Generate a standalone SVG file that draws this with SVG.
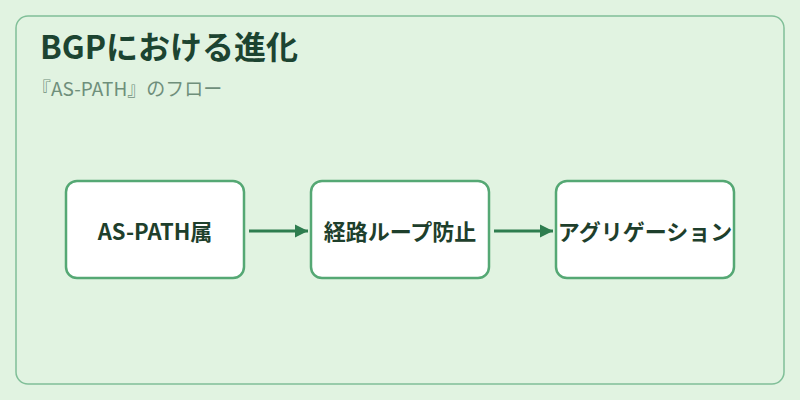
<svg xmlns="http://www.w3.org/2000/svg" width="800" height="400" viewBox="0 0 800 400">
<defs>
<style>
.bg{fill:#e1f3e1}
.frame{fill:#e1f3e1;stroke:#80bf98;stroke-width:1.5}
.box{fill:#ffffff;stroke:#55a874;stroke-width:2.5}
.lbl{font-family:"Noto Sans CJK JP","Noto Sans",sans-serif;font-weight:700;font-size:22px;fill:#1e3f2c;text-anchor:middle;dominant-baseline:central}
.title{font-family:"Noto Sans CJK JP","Noto Sans",sans-serif;font-weight:700;font-size:32px;fill:#1c4431}
.sub{font-family:"Noto Sans CJK JP","Noto Sans",sans-serif;font-size:19px;fill:#6f8f7b}
.edge{stroke:#2e7d4f;stroke-width:3;fill:none}
</style>
<marker id="ah" viewBox="0 0 10 10" refX="10" refY="5" markerWidth="4.5" markerHeight="4.7" orient="auto" markerUnits="strokeWidth">
<path d="M0,0 L10,5 L0,10 z" fill="#2e7d4f"/>
</marker>
</defs>
<rect class="bg" x="0" y="0" width="800" height="400"/>
<rect class="frame" x="16" y="16" width="768" height="368" rx="12"/>
<text class="title" x="40" y="59">BGPにおける進化</text>
<text class="sub" x="32" y="96">『AS-PATH』のフロー</text>
<g id="connectors">
<line class="edge" x1="249" y1="231" x2="308" y2="231" marker-end="url(#ah)"/>
<line class="edge" x1="494" y1="231" x2="553" y2="231" marker-end="url(#ah)"/>
</g>
<g id="node1">
<rect class="box" x="66" y="181" width="178" height="97" rx="11"/>
<text class="lbl" x="155" y="230">AS-PATH属</text>
</g>
<g id="node2">
<rect class="box" x="311" y="181" width="178" height="97" rx="11"/>
<text class="lbl" x="400" y="230">経路ループ防止</text>
</g>
<g id="node3">
<rect class="box" x="556" y="181" width="178" height="97" rx="11"/>
<text class="lbl" x="645" y="230">アグリゲーション</text>
</g>
</svg>
